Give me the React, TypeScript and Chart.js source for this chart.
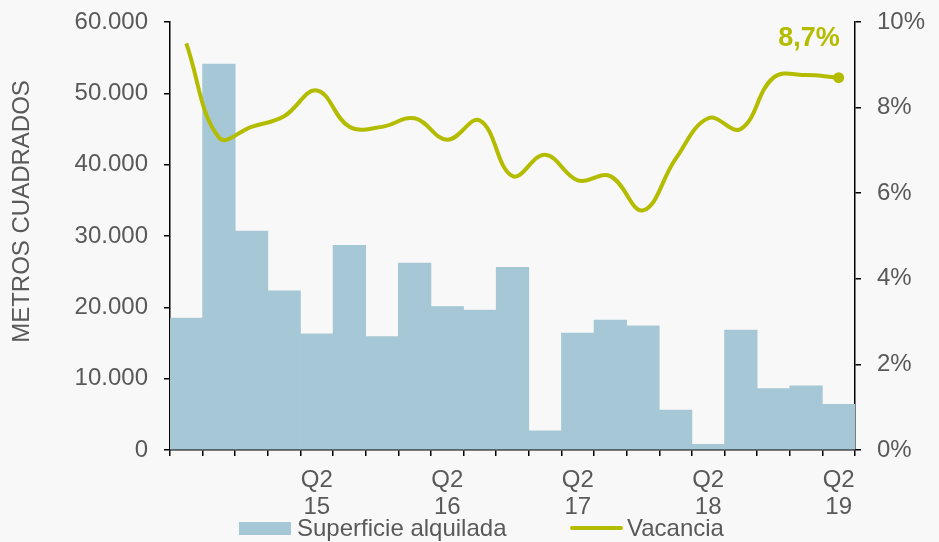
import React, { useEffect, useRef } from 'react';
import { Chart, registerables } from 'chart.js';

Chart.register(...registerables);

const categories = [
  'Q2 14', 'Q3 14', 'Q4 14', 'Q1 15', 'Q2 15', 'Q3 15', 'Q4 15', 'Q1 16', 'Q2 16', 'Q3 16', 'Q4 16',
  'Q1 17', 'Q2 17', 'Q3 17', 'Q4 17', 'Q1 18', 'Q2 18', 'Q3 18', 'Q4 18', 'Q1 19', 'Q2 19',
];
const shownTicks = ['Q2 15', 'Q2 16', 'Q2 17', 'Q2 18', 'Q2 19'];
const superficie = [
  18500, 54100, 30700, 22300, 16300, 28700, 15900, 26200, 20100, 19600, 25600,
  2700, 16400, 18200, 17400, 5600, 800, 16800, 8600, 9000, 6400,
];
const vacancia = [
  9.5, 7.3, 7.55, 7.8, 8.4, 7.55, 7.55, 7.75, 7.25, 7.7, 6.4,
  6.9, 6.3, 6.4, 5.6, 6.8, 7.75, 7.5, 8.7, 8.76, 8.7,
];
const leftTicks = { min: 0, max: 60000, step: 10000 };
const rightTicks = { min: 0, max: 10, step: 2 };
const seriesNames = ['Superficie alquilada', 'Vacancia'];
const yTitle = 'METROS CUADRADOS';
const lastLabel = '8,7%';

const FONT = "'Liberation Sans', Arial, Helvetica, sans-serif";
const FS = 24;
const GRAY = '#595959';
const BAR = '#a6c8d6';
const LINE = '#b4bc00';

function fmtThousands(v: number): string {
  return String(Math.round(v)).replace(/\B(?=(\d{3})+(?!\d))/g, '.');
}

const overlayPlugin = {
  id: 'overlay',
  afterDraw(chart: any) {
    const ctx = chart.ctx;
    ctx.save();
    // y-axis title
    ctx.fillStyle = GRAY;
    ctx.font = `${FS}px ${FONT}`;
    ctx.translate(22.5, 211.5);
    ctx.rotate(-Math.PI / 2);
    ctx.textAlign = 'center';
    ctx.textBaseline = 'middle';
    ctx.fillText(yTitle, 0, 0);
    ctx.restore();

    // last value label
    const meta = chart.getDatasetMeta(1);
    const pt = meta.data[meta.data.length - 1];
    if (pt) {
      ctx.save();
      ctx.fillStyle = LINE;
      ctx.font = `bold 27px ${FONT}`;
      ctx.textAlign = 'right';
      ctx.textBaseline = 'alphabetic';
      ctx.fillText(lastLabel, pt.x + 1, pt.y - 32);
      ctx.restore();
    }

    // legend
    ctx.save();
    ctx.font = `${FS}px ${FONT}`;
    ctx.textBaseline = 'alphabetic';
    ctx.textAlign = 'left';
    let x = 239;
    const ds = chart.data.datasets;
    ctx.fillStyle = ds[0].backgroundColor;
    ctx.fillRect(x, 522, 52, 13);
    x += 52 + 6;
    ctx.fillStyle = GRAY;
    ctx.fillText(ds[0].label, x, 536);
    x = 570;
    ctx.strokeStyle = ds[1].borderColor;
    ctx.lineWidth = 4;
    ctx.lineCap = 'round';
    ctx.beginPath();
    ctx.moveTo(x + 2, 528);
    ctx.lineTo(x + 51, 528);
    ctx.stroke();
    ctx.fillStyle = GRAY;
    ctx.fillText(ds[1].label, x + 57, 536);
    ctx.restore();
  },
};

export default function App() {
  const ref = useRef<HTMLCanvasElement>(null);
  useEffect(() => {
    if (!ref.current) return;
    const last = vacancia.length - 1;
    const axisGrid = {
      drawOnChartArea: false,
      drawTicks: true,
      tickLength: 6,
      color: '#000',
      lineWidth: 1.5,
    };
    const chart = new Chart(ref.current, {
      type: 'bar',
      data: {
        labels: categories,
        datasets: [
          {
            type: 'bar',
            label: seriesNames[0],
            data: superficie,
            backgroundColor: BAR,
            borderWidth: 0,
            categoryPercentage: 1,
            barPercentage: 1,
            yAxisID: 'y',
            order: 2,
          },
          {
            type: 'line',
            label: seriesNames[1],
            data: vacancia,
            borderColor: LINE,
            backgroundColor: LINE,
            borderWidth: 4,
            tension: 0.4,
            pointRadius: (c: any) => (c.dataIndex === last ? 5.5 : 0),
            pointBackgroundColor: LINE,
            pointBorderWidth: 0,
            yAxisID: 'y1',
            order: 1,
          },
        ] as any,
      },
      options: {
        responsive: false,
        animation: false,
        devicePixelRatio: 1,
        layout: { padding: { top: 22, left: 0, right: 0, bottom: 0 } },
        plugins: { legend: { display: false }, tooltip: { enabled: false } },
        scales: {
          x: {
            offset: true,
            grid: { ...axisGrid, offset: true },
            border: { color: '#000', width: 1.5 },
            ticks: {
              autoSkip: false,
              maxRotation: 0,
              minRotation: 0,
              color: GRAY,
              font: { size: FS, family: FONT, lineHeight: 1.12 },
              padding: 11,
              callback: (_v: any, i: number) => {
                const c = categories[i];
                return shownTicks.includes(c) ? c.split(' ') : '';
              },
            },
            afterFit: (s: any) => {
              s.height = 92;
              s.paddingLeft = 0;
              s.paddingRight = 0;
            },
          },
          y: {
            position: 'left',
            min: leftTicks.min,
            max: leftTicks.max,
            grid: axisGrid,
            border: { color: '#000', width: 1.5 },
            ticks: {
              stepSize: leftTicks.step,
              color: GRAY,
              font: { size: FS, family: FONT },
              padding: 16,
              callback: (v: any) => fmtThousands(Number(v)),
            },
            afterFit: (s: any) => {
              s.width = 170;
              s.paddingTop = 0;
              s.paddingBottom = 0;
            },
          },
          y1: {
            position: 'right',
            min: rightTicks.min,
            max: rightTicks.max,
            grid: axisGrid,
            border: { color: '#000', width: 1.5 },
            ticks: {
              stepSize: rightTicks.step,
              color: GRAY,
              font: { size: FS, family: FONT },
              padding: 16,
              callback: (v: any) => `${v}%`,
            },
            afterFit: (s: any) => {
              s.width = 84;
              s.paddingTop = 0;
              s.paddingBottom = 0;
            },
          },
        },
      } as any,
      plugins: [overlayPlugin],
    });
    return () => chart.destroy();
  }, []);

  return (
    <div
      style={{
        position: 'fixed',
        left: 0,
        top: 0,
        width: 939,
        height: 542,
        background: '#f8f8f8',
      }}
    >
      <canvas ref={ref} width={939} height={542} style={{ display: 'block' }} />
    </div>
  );
}
